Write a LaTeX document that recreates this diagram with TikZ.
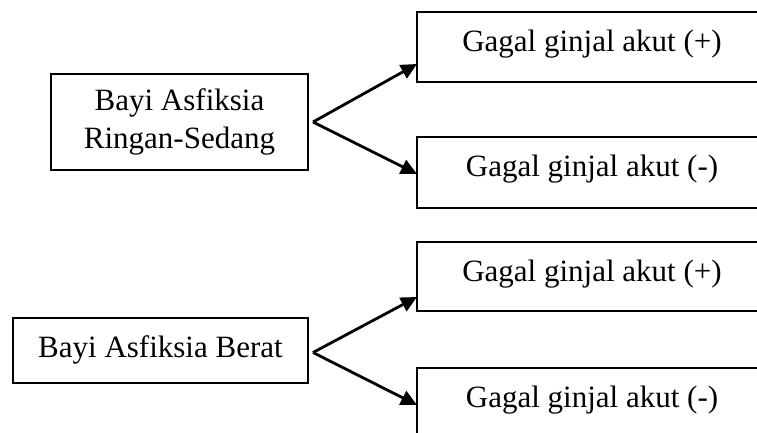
\documentclass[tikz,border=0pt]{standalone}
\usepackage{fontspec}
\setmainfont{Liberation Serif}
\usetikzlibrary{arrows.meta,positioning}
\begin{document}
\begin{tikzpicture}[x=1pt,y=-1pt,
  box/.style={draw, line width=2.8pt, inner sep=0pt, outer sep=0pt, anchor=north west,
    font=\fontsize{31}{38}\selectfont, align=center},
  rbox/.style={box, minimum width=350pt, text height=39pt},
  conn/.style={line width=2.8pt, -{Triangle[length=16pt,width=15pt]}}]
\useasboundingbox (0,0) rectangle (757,432);
\clip (0,0) rectangle (757,432);
% left boxes
\node[box, minimum width=257pt, minimum height=96pt] (a) at (51,74) {Bayi Asfiksia\\Ringan-Sedang};
\node[box, minimum width=295pt, text height=39pt, text depth=26pt] (c) at (13,318) {Bayi Asfiksia Berat};
% right boxes
\node[rbox, text depth=31pt] (b1) at (417,12) {Gagal ginjal akut (+)};
\node[rbox, text depth=32pt] (b2) at (417,137) {Gagal ginjal akut (-)};
\node[rbox, text depth=30pt] (d1) at (417,242) {Gagal ginjal akut (+)};
\node[rbox, text depth=31pt] (d2) at (417,368) {Gagal ginjal akut (-)};
% connectors
\draw[conn] ([xshift=5pt]a.east) -- ([yshift=-52pt]b1.north west);
\draw[conn] ([xshift=5pt]a.east) -- ([yshift=-37pt]b2.north west);
\draw[conn] ([xshift=5pt,yshift=-2pt]c.east) -- ([yshift=-55pt]d1.north west);
\draw[conn] ([xshift=5pt,yshift=-2pt]c.east) -- ([yshift=-37pt]d2.north west);
\end{tikzpicture}
\end{document}
